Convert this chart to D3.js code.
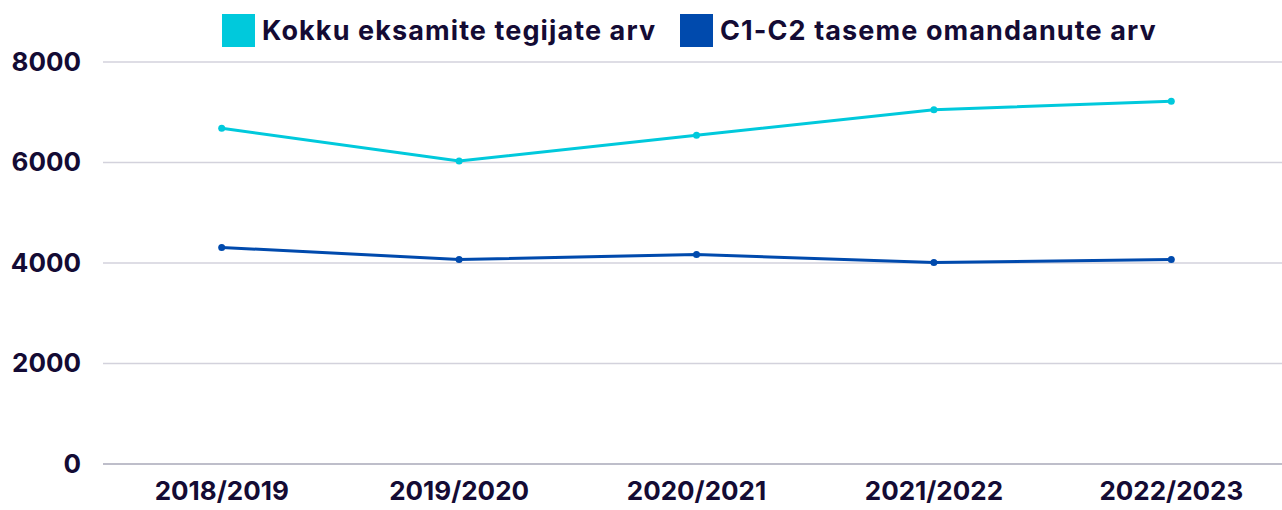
<!DOCTYPE html>
<html>
<head>
<meta charset="utf-8">
<script src="https://cdn.jsdelivr.net/npm/d3@7"></script>
<style>
  body { margin: 0; background: #fff; }
  svg { display: block; font-family: Inter, "Noto Sans", sans-serif; }
</style>
</head>
<body>
<div id="chart"></div>
<script>
// data -------------------------------------------------------------
const years = ['2018/2019', '2019/2020', '2020/2021', '2021/2022', '2022/2023'];
const totalTakers = [6680, 6030, 6540, 7050, 7220];
const c1c2Holders = [4310, 4070, 4170, 4010, 4070];
const yTicks = [0, 2000, 4000, 6000, 8000];
const seriesNames = ['Kokku eksamite tegijate arv', 'C1-C2 taseme omandanute arv'];
const seriesColors = ['#00c9dc', '#004aad'];

// size -------------------------------------------------------------
const width = 1282;
const height = 510;
const margin = { top: 62, right: -8, bottom: 46, left: 103 };
const textColor = '#140b34';

const svg = d3.select('#chart').append('svg')
  .attr('width', width)
  .attr('height', height);

// scales -----------------------------------------------------------
const xScale = d3.scaleBand()
  .domain(years)
  .range([margin.left, width - margin.right]);

const yScale = d3.scaleLinear()
  .domain([0, 8000])
  .range([height - margin.bottom, margin.top]);

// grid -------------------------------------------------------------
svg.append('g')
  .selectAll('line')
  .data(yTicks)
  .enter()
  .append('line')
  .attr('x1', margin.left)
  .attr('x2', width)
  .attr('y1', d => yScale(d))
  .attr('y2', d => yScale(d))
  .attr('stroke', d => d === 0 ? '#a9a8b8' : '#d3d2dc')
  .attr('stroke-width', 1.5);

// y axis -----------------------------------------------------------
const yAxis = d3.axisLeft(yScale).tickValues(yTicks).tickSize(0).tickPadding(22).tickFormat(d3.format('d'));
svg.append('g')
  .attr('transform', 'translate(' + margin.left + ',0)')
  .call(yAxis)
  .call(g => g.select('.domain').remove())
  .selectAll('text')
  .attr('fill', textColor)
  .attr('font-size', '26px')
  .attr('font-weight', 700)
  .attr('font-family', 'Inter, sans-serif');

// x axis -----------------------------------------------------------
const xAxis = d3.axisBottom(xScale).tickSize(0).tickPadding(18);
svg.append('g')
  .attr('transform', 'translate(0,' + yScale(0) + ')')
  .call(xAxis)
  .call(g => g.select('.domain').remove())
  .selectAll('text')
  .attr('fill', textColor)
  .attr('font-size', '26px')
  .attr('font-weight', 700)
  .attr('font-family', 'Inter, sans-serif');

// lines ------------------------------------------------------------
const cx = d => xScale(d) + xScale.bandwidth() / 2;
[totalTakers, c1c2Holders].forEach((values, i) => {
  const pts = years.map((y, j) => [cx(y), yScale(values[j])]);
  svg.append('path')
    .attr('d', d3.line()(pts))
    .attr('fill', 'none')
    .attr('stroke', seriesColors[i])
    .attr('stroke-width', 3);
  svg.append('g')
    .selectAll('circle')
    .data(pts)
    .enter()
    .append('circle')
    .attr('cx', d => d[0])
    .attr('cy', d => d[1])
    .attr('r', 3.5)
    .attr('fill', seriesColors[i]);
});

// legend -----------------------------------------------------------
const legendX = [222, 680];
const legend = svg.append('g');
seriesNames.forEach((name, i) => {
  legend.append('rect')
    .attr('x', legendX[i])
    .attr('y', 14)
    .attr('width', 33)
    .attr('height', 33)
    .attr('fill', seriesColors[i]);
  legend.append('text')
    .attr('x', legendX[i] + 40)
    .attr('y', 40)
    .attr('fill', textColor)
    .attr('font-size', '27px')
    .attr('font-weight', 700)
    .attr('letter-spacing', '1.1px')
    .text(name);
});
</script>
</body>
</html>
